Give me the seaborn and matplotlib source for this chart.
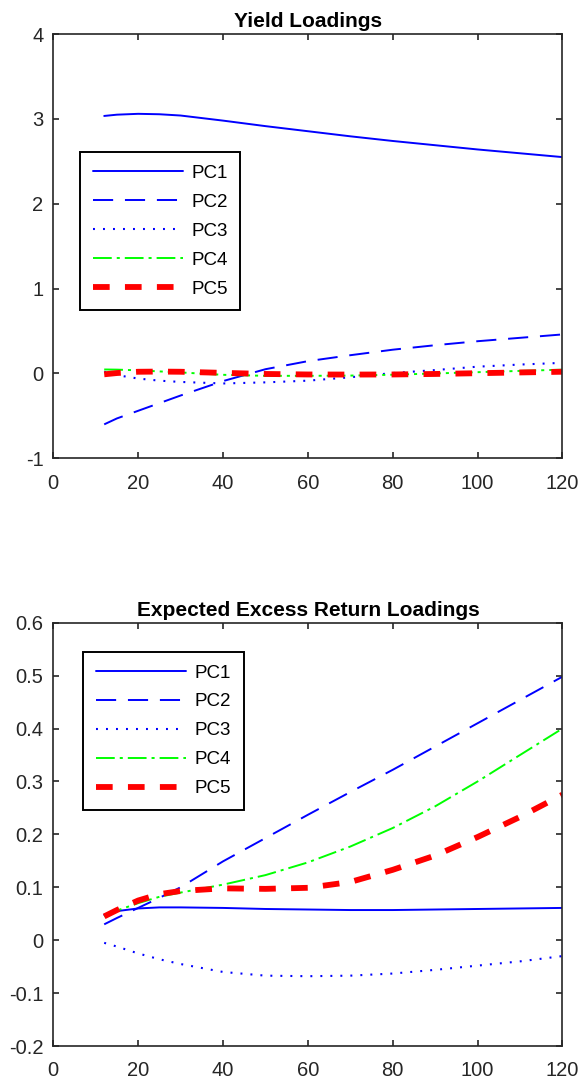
import matplotlib
matplotlib.use("Agg")
import matplotlib.pyplot as plt
import seaborn as sns
import pandas as pd

# ---------------- data ----------------
maturities = [12, 15, 20, 25, 30, 40, 50, 60, 70, 80, 90, 100, 110, 120]
series_names = ["PC1", "PC2", "PC3", "PC4", "PC5"]

yield_pc1 = [3.035, 3.05, 3.06, 3.055, 3.04, 2.98, 2.915, 2.855, 2.795, 2.74, 2.69, 2.64, 2.595, 2.55]
yield_pc2 = [-0.60, -0.53, -0.44, -0.35, -0.26, -0.09, 0.05, 0.145, 0.215, 0.28, 0.333, 0.38, 0.42, 0.46]
yield_pc3 = [0.02, -0.02, -0.06, -0.085, -0.10, -0.118, -0.105, -0.085, -0.045, 0.005, 0.04, 0.08, 0.105, 0.125]
yield_pc4 = [0.047, 0.045, 0.037, 0.024, 0.012, -0.016, -0.028, -0.028, -0.025, -0.015, 0.0, 0.015, 0.03, 0.045]
yield_pc5 = [-0.01, 0.005, 0.02, 0.022, 0.02, 0.007, -0.006, -0.012, -0.013, -0.012, -0.006, 0.003, 0.012, 0.02]

ret_pc1 = [0.048, 0.055, 0.060, 0.062, 0.062, 0.061, 0.059, 0.058, 0.057, 0.057, 0.058, 0.059, 0.060, 0.061]
ret_pc2 = [0.030, 0.042, 0.061, 0.080, 0.100, 0.149, 0.193, 0.237, 0.280, 0.322, 0.366, 0.410, 0.454, 0.498]
ret_pc3 = [-0.005, -0.012, -0.025, -0.036, -0.045, -0.060, -0.067, -0.068, -0.067, -0.063, -0.056, -0.048, -0.040, -0.030]
ret_pc4 = [0.045, 0.056, 0.070, 0.082, 0.090, 0.105, 0.123, 0.147, 0.177, 0.212, 0.253, 0.300, 0.350, 0.400]
ret_pc5 = [0.045, 0.057, 0.075, 0.087, 0.093, 0.098, 0.097, 0.099, 0.110, 0.133, 0.160, 0.195, 0.233, 0.275]

titles = ["Yield Loadings", "Expected Excess Return Loadings"]
x_ticks = [0, 20, 40, 60, 80, 100, 120]
x_ticklabels = ["0", "20", "40", "60", "80", "100", "120"]
top_yticks = [-1, 0, 1, 2, 3, 4]
top_yticklabels = ["-1", "0", "1", "2", "3", "4"]
bot_yticks = [-0.2, -0.1, 0, 0.1, 0.2, 0.3, 0.4, 0.5, 0.6]
bot_yticklabels = ["-0.2", "-0.1", "0", "0.1", "0.2", "0.3", "0.4", "0.5", "0.6"]

# ---------------- style ----------------
sns.set_style("white")
plt.rcParams["font.family"] = ["Liberation Sans", "DejaVu Sans"]
plt.rcParams["axes.unicode_minus"] = False
plt.rcParams["lines.scale_dashes"] = False

BLUE = (0, 0, 1)
GREEN = (0, 1, 0)
RED = (1, 0, 0)
DARK = (0.15, 0.15, 0.15)

styles = {
    "PC1": dict(color=BLUE, linestyle="-", linewidth=1.4),
    "PC2": dict(color=BLUE, linestyle=(0, (14.5, 8.5)), linewidth=1.4),
    "PC3": dict(color=BLUE, linestyle=(0, (1.4, 5.8)), linewidth=1.5),
    "PC4": dict(color=GREEN, linestyle=(0, (13.5, 3.6, 2.2, 3.6)), linewidth=1.4),
    "PC5": dict(color=RED, linestyle=(0, (12.0, 11.0)), linewidth=4.2),
}

fig = plt.figure(figsize=(5.83, 10.85), dpi=100)
ax_top = fig.add_axes([0.0914, 0.5776, 0.8734, 0.391])
ax_bot = fig.add_axes([0.0914, 0.0359, 0.8734, 0.3902])

top_data = [yield_pc1, yield_pc2, yield_pc3, yield_pc4, yield_pc5]
bot_data = [ret_pc1, ret_pc2, ret_pc3, ret_pc4, ret_pc5]


def draw(ax, data, title, yticks, yticklabels, ylim, legend_anchor):
    for name, vals in zip(series_names, data):
        df = pd.DataFrame({"maturity": maturities, "value": vals})
        sns.lineplot(data=df, x="maturity", y="value", ax=ax, label=name,
                     **styles[name])
    ax.set_xlim(0, 120)
    ax.set_ylim(*ylim)
    ax.set_xticks(x_ticks)
    ax.set_xticklabels(x_ticklabels)
    ax.set_yticks(yticks)
    ax.set_yticklabels(yticklabels)
    ax.set_xlabel("")
    ax.set_ylabel("")
    ax.set_title(title, fontsize=15, fontweight="bold", color="black", pad=5)
    ax.tick_params(direction="in", length=4.3, width=1.2, colors=DARK,
                   labelsize=14.5, top=True, right=True, bottom=True, left=True,
                   labelcolor=DARK)
    ax.tick_params(axis="y", pad=7)
    ax.tick_params(axis="x", pad=11)
    for sp in ax.spines.values():
        sp.set_visible(True)
        sp.set_color(DARK)
        sp.set_linewidth(1.2)
    leg = ax.legend(loc="upper left", bbox_to_anchor=legend_anchor,
                    fontsize=13.5, frameon=True, fancybox=False, framealpha=1,
                    edgecolor="black", handlelength=4.8, handletextpad=0.45,
                    borderpad=0.68, labelspacing=0.63, borderaxespad=0)
    leg.get_frame().set_linewidth(1.4)
    for t in leg.get_texts():
        t.set_color("black")


draw(ax_top, top_data, titles[0], top_yticks, top_yticklabels, (-1, 4), (0.0524, 0.722))
draw(ax_bot, bot_data, titles[1], bot_yticks, bot_yticklabels, (-0.2, 0.6), (0.059, 0.9315))

fig.savefig("out.png", dpi=100)
